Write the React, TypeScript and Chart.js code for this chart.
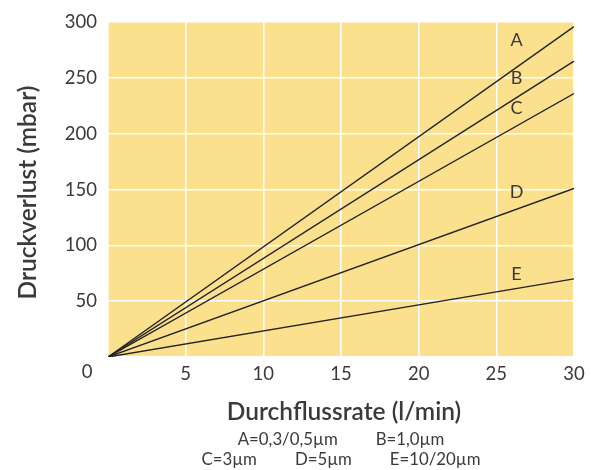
import React, { useEffect, useRef } from "react";
import { Chart, registerables } from "chart.js";

Chart.register(...registerables);

const flowRates = [0, 30];
const seriesA = [0, 296];
const seriesB = [0, 265];
const seriesC = [0, 236];
const seriesD = [0, 151];
const seriesE = [0, 70];
const seriesNames = ["A", "B", "C", "D", "E"];
const labelX = 26.3;
const labelY = [284, 250, 223, 148, 74];
const xTitle = "Durchflussrate (l/min)";
const yTitle = "Druckverlust (mbar)";
const noteLine1 = ["A=0,3/0,5µm", "B=1,0µm"];
const noteLine2 = ["C=3µm", "D=5µm", "E=10/20µm"];

const FONT = "Lato, 'DejaVu Sans', sans-serif";
const TEXT = "#3a3a3a";
const BG = "#fbe08e";

const toPoints = (ys: number[]) => flowRates.map((x, i) => ({ x, y: ys[i] }));

export default function App() {
  const ref = useRef<HTMLCanvasElement>(null);
  useEffect(() => {
    if (!ref.current) return;
    const decor = {
      id: "decor",
      beforeDraw(chart: any) {
        const { ctx, chartArea: a } = chart;
        ctx.save();
        ctx.fillStyle = BG;
        ctx.fillRect(a.left, a.top, a.right - a.left, a.bottom - a.top);
        ctx.restore();
      },
      afterDraw(chart: any) {
        const { ctx, chartArea: a, scales } = chart;
        const xs = scales.x, ys = scales.y;
        ctx.save();
        ctx.fillStyle = TEXT;
        ctx.font = `18px ${FONT}`;
        ctx.textAlign = "center";
        ctx.textBaseline = "middle";
        seriesNames.forEach((n, i) => {
          ctx.fillText(n, xs.getPixelForValue(labelX), ys.getPixelForValue(labelY[i]));
        });
        ctx.font = `18.5px ${FONT}`;
        ctx.fillText("0", a.left - 21, a.bottom + 15);
        const cx = (a.left + a.right) / 2;
        ctx.font = `600 24.5px ${FONT}`;
        ctx.fillText(xTitle, cx + 3, 412);
        ctx.save();
        ctx.translate(28, (a.top + a.bottom) / 2 + 3);
        ctx.rotate(-Math.PI / 2);
        ctx.fillText(yTitle, 0, 0);
        ctx.restore();
        ctx.font = `16.8px ${FONT}`;
        ctx.textAlign = "left";
        const gap = 38;
        const drawLine = (items: string[], y: number) => {
          const widths = items.map((t) => ctx.measureText(t).width);
          const total = widths.reduce((s, w) => s + w, 0) + gap * (items.length - 1);
          let x = cx - total / 2;
          items.forEach((t, i) => {
            ctx.fillText(t, x, y);
            x += widths[i] + gap;
          });
        };
        drawLine(noteLine1, 440);
        drawLine(noteLine2, 460);
        ctx.restore();
      },
    };
    const mk = (label: string, ys: number[]) => ({
      label,
      data: toPoints(ys),
      borderColor: "#222",
      borderWidth: 1.4,
      pointRadius: 0,
      showLine: true,
      fill: false,
    });
    const chart = new Chart(ref.current, {
      type: "scatter",
      data: {
        datasets: [
          mk("A", seriesA),
          mk("B", seriesB),
          mk("C", seriesC),
          mk("D", seriesD),
          mk("E", seriesE),
        ],
      },
      options: {
        animation: false,
        responsive: false,
        layout: { padding: { top: 17, right: 17, left: 0, bottom: 0 } },
        plugins: { legend: { display: false }, tooltip: { enabled: false } },
        scales: {
          x: {
            type: "linear",
            min: 0,
            max: 30,
            ticks: {
              stepSize: 5,
              padding: 6,
              color: TEXT,
              font: { family: FONT, size: 18.5 },
              callback: (v: any) => (v === 0 ? "" : String(v)),
              maxRotation: 0,
            },
            grid: { color: "#ffffff", lineWidth: 1.6, drawTicks: false },
            border: { display: false },
            afterFit: (s: any) => {
              s.height = 113;
            },
          },
          y: {
            type: "linear",
            min: 0,
            max: 300,
            ticks: {
              stepSize: 50,
              padding: 11,
              color: TEXT,
              font: { family: FONT, size: 18.5 },
              callback: (v: any) => (v === 0 ? "" : String(v)),
            },
            grid: { color: "#ffffff", lineWidth: 1.6, drawTicks: false },
            border: { display: false },
            afterFit: (s: any) => {
              s.width = 108;
            },
          },
        },
      },
      plugins: [decor],
    } as any);
    return () => chart.destroy();
  }, []);
  return (
    <div style={{ position: "absolute", left: 0, top: 0, width: 591, height: 470, background: "#fff" }}>
      <canvas ref={ref} width={591} height={470} />
    </div>
  );
}
